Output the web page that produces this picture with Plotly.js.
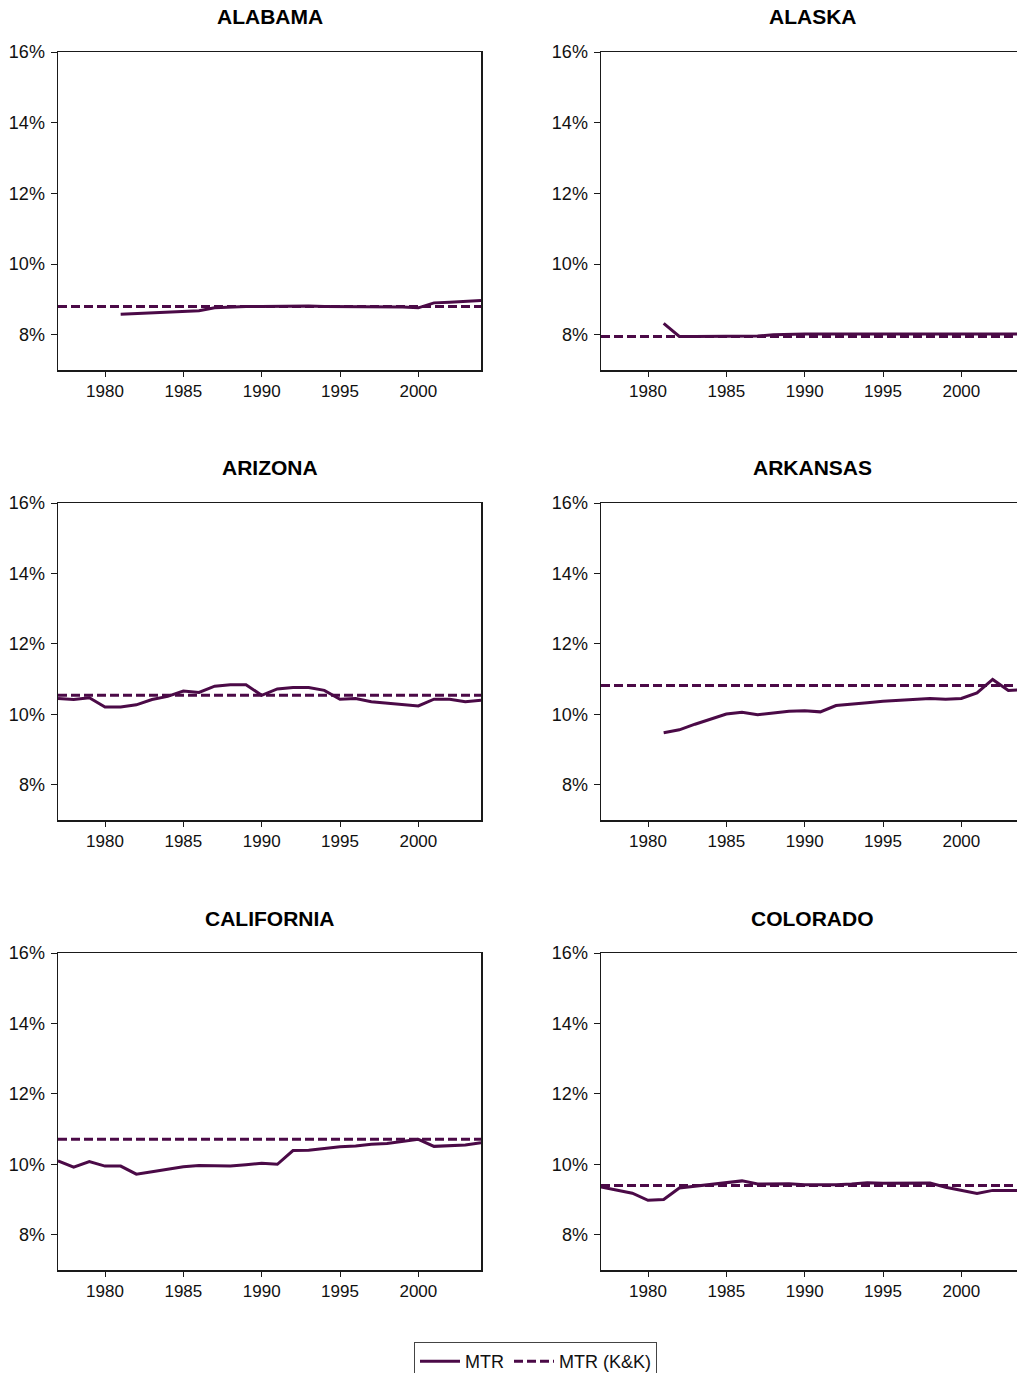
<!DOCTYPE html>
<html>
<head>
<meta charset="utf-8">
<script src="https://cdn.plot.ly/plotly-3.0.1.min.js"></script>
<style>
html, body { margin:0; padding:0; width:1017px; height:1373px; overflow:hidden; background:#fff; }
#chart { width:1024px; height:1385px; }
</style>
</head>
<body>
<div id="chart"></div>
<script>
const states = ["ALABAMA", "ALASKA", "ARIZONA", "ARKANSAS", "CALIFORNIA", "COLORADO"];

const yearsAlabama = [1981,1982,1983,1984,1985,1986,1987,1988,1989,1990,1991,1992,1993,1994,1995,1996,1997,1998,1999,2000,2001,2002,2003,2004];
const mtrAlabama = [8.58,8.60,8.62,8.65,8.67,8.68,8.76,8.79,8.80,8.80,8.81,8.82,8.81,8.80,8.80,8.80,8.80,8.80,8.78,8.76,8.90,8.92,8.95,8.97];
const kkAlabama = 8.80;

const yearsAlaska = [1981,1982,1983,1984,1985,1986,1987,1988,1989,1990,1991,1992,1993,1994,1995,1996,1997,1998,1999,2000,2001,2002,2003,2004];
const mtrAlaska = [8.32,7.95,7.95,7.95,7.95,7.95,7.96,8.00,8.02,8.02,8.02,8.02,8.01,8.02,8.00,8.00,8.01,8.02,8.02,8.02,8.02,8.01,8.02,8.02];
const kkAlaska = 7.95;

const yearsArizona = [1977,1978,1979,1980,1981,1982,1983,1984,1985,1986,1987,1988,1989,1990,1991,1992,1993,1994,1995,1996,1997,1998,1999,2000,2001,2002,2003,2004];
const mtrArizona = [10.45,10.42,10.47,10.21,10.21,10.27,10.42,10.51,10.66,10.62,10.80,10.84,10.84,10.54,10.72,10.76,10.76,10.68,10.43,10.45,10.36,10.32,10.28,10.24,10.43,10.43,10.36,10.40];
const kkArizona = 10.54;

const yearsArkansas = [1981,1982,1983,1984,1985,1986,1987,1988,1989,1990,1991,1992,1993,1994,1995,1996,1997,1998,1999,2000,2001,2002,2003,2004];
const mtrArkansas = [9.48,9.56,9.72,9.87,10.01,10.06,9.99,10.04,10.09,10.10,10.07,10.25,10.28,10.33,10.37,10.40,10.43,10.45,10.43,10.45,10.61,10.99,10.68,10.70];
const kkArkansas = 10.82;

const yearsCalifornia = [1977,1978,1979,1980,1981,1982,1983,1984,1985,1986,1987,1988,1989,1990,1991,1992,1993,1994,1995,1996,1997,1998,1999,2000,2001,2002,2003,2004];
const mtrCalifornia = [10.10,9.92,10.08,9.95,9.95,9.72,9.79,9.87,9.93,9.97,9.95,9.95,9.99,10.03,10.00,10.39,10.40,10.45,10.50,10.52,10.57,10.59,10.64,10.71,10.51,10.54,10.55,10.61];
const kkCalifornia = 10.71;

const yearsColorado = [1977,1978,1979,1980,1981,1982,1983,1984,1985,1986,1987,1988,1989,1990,1991,1992,1993,1994,1995,1996,1997,1998,1999,2000,2001,2002,2003,2004];
const mtrColorado = [9.36,9.26,9.18,8.98,9.00,9.33,9.38,9.44,9.50,9.53,9.44,9.44,9.45,9.42,9.41,9.42,9.44,9.48,9.46,9.46,9.47,9.47,9.35,9.26,9.17,9.26,9.26,9.26];
const kkColorado = 9.40;

const yTickVals = [8, 10, 12, 14, 16];
const yTickText = ["8%", "10%", "12%", "14%", "16%"];
const xTickVals = [1980, 1985, 1990, 1995, 2000];
const kkRange = [1977, 2004];

const panels = [
  {years: yearsAlabama, mtr: mtrAlabama, kk: kkAlabama},
  {years: yearsAlaska, mtr: mtrAlaska, kk: kkAlaska},
  {years: yearsArizona, mtr: mtrArizona, kk: kkArizona},
  {years: yearsArkansas, mtr: mtrArkansas, kk: kkArkansas},
  {years: yearsCalifornia, mtr: mtrCalifornia, kk: kkCalifornia},
  {years: yearsColorado, mtr: mtrColorado, kk: kkColorado}
];

const W = 1024, H = 1385;
const lineColor = "#4b0a47";
const axisColor = "#1a1a1a";
const colX = [[58, 481], [601, 1024]];
const rowY = [[52, 370], [503, 820], [953, 1270]];
const fontFam = "Liberation Sans, Arial, sans-serif";

const traces = [];
const layout = {
  width: W, height: H,
  margin: {l:0, r:0, t:0, b:0},
  paper_bgcolor: "#fff", plot_bgcolor: "#fff",
  font: {family: fontFam, size: 16, color: "#111"},
  showlegend: true,
  legend: {
    orientation: "h",
    x: 414 / W, xanchor: "left",
    y: 1 - 1342 / H, yanchor: "top",
    bordercolor: "#444", borderwidth: 1,
    font: {family: fontFam, size: 18, color: "#111"},
    itemwidth: 40, tracegroupgap: 0
  },
  annotations: []
};

panels.forEach((p, i) => {
  const col = i % 2, row = Math.floor(i / 2);
  const n = i + 1;
  const xa = "x" + (n === 1 ? "" : n), ya = "y" + (n === 1 ? "" : n);
  traces.push({
    x: p.years, y: p.mtr, xaxis: xa, yaxis: ya, type: "scatter", mode: "lines",
    name: "MTR", line: {color: lineColor, width: 3}, showlegend: i === 0, hoverinfo: "skip"
  });
  traces.push({
    x: kkRange, y: [p.kk, p.kk], xaxis: xa, yaxis: ya, type: "scatter", mode: "lines",
    name: "MTR (K&K)", line: {color: lineColor, width: 3, dash: "9px,4px"}, showlegend: i === 0, hoverinfo: "skip"
  });
  const xk = "xaxis" + (n === 1 ? "" : n), yk = "yaxis" + (n === 1 ? "" : n);
  layout[xk] = {
    domain: [colX[col][0] / W, colX[col][1] / W],
    anchor: ya, range: [1977, 2004],
    tickvals: xTickVals, ticks: "outside", ticklen: 5, tickwidth: 1, tickcolor: axisColor,
    showline: true, linecolor: axisColor, linewidth: 1.5, mirror: true,
    showgrid: false, zeroline: false, fixedrange: true,
    tickfont: {size: 17, color: "#111"}
  };
  layout[yk] = {
    domain: [1 - rowY[row][1] / H, 1 - rowY[row][0] / H],
    anchor: xa, range: [7, 16],
    tickvals: yTickVals, ticktext: yTickText, ticks: "outside", ticklen: 6, tickwidth: 1, tickcolor: axisColor,
    showline: true, linecolor: axisColor, linewidth: 1.5, mirror: true,
    showgrid: false, zeroline: false, fixedrange: true,
    ticklabelstandoff: 2,
    tickfont: {size: 18, color: "#111"}
  };
  layout.annotations.push({
    text: "<b>" + states[i] + "</b>",
    xref: "paper", yref: "paper",
    x: (colX[col][0] + colX[col][1]) / 2 / W, y: 1 - (rowY[row][0] - 35) / H,
    xanchor: "center", yanchor: "middle", showarrow: false,
    font: {family: fontFam, size: 21, color: "#000"}
  });
});

Plotly.newPlot("chart", traces, layout, {displayModeBar: false, staticPlot: true});
</script>
</body>
</html>
